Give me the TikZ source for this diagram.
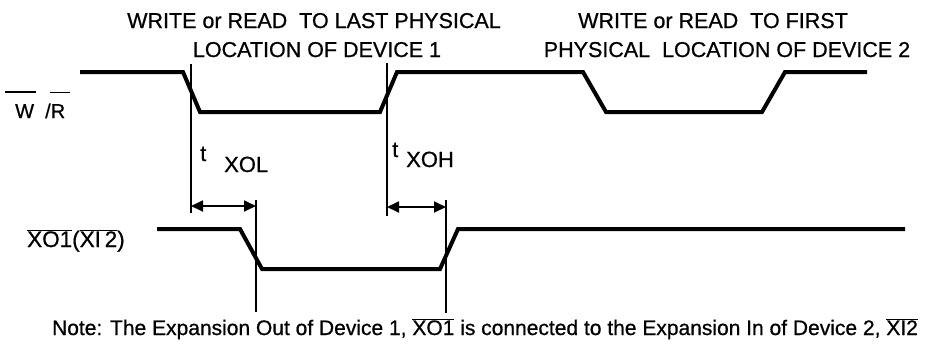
\documentclass[tikz,border=0pt]{standalone}
\usepackage{fontspec}
\setmainfont[FakeBold=0.7]{Liberation Sans}
\usetikzlibrary{arrows.meta,calc}
\newcommand{\olx}[1]{$\overline{\hbox{#1}}$}
\begin{document}
\begin{tikzpicture}[x=1pt,y=-1pt,
  sig/.style={line width=4pt,line join=miter,line cap=butt},
  tickline/.style={line width=1.8pt},
  ovl/.style={line width=1.6pt},
  dim/.style={line width=1.8pt,{Triangle[length=12pt,width=11pt]}-{Triangle[length=12pt,width=11pt]}},
  lbl/.style={inner sep=0pt,font=\fontsize{21.5}{25}\selectfont},
  sml/.style={inner sep=0pt,font=\fontsize{20}{24}\selectfont}]
\useasboundingbox (0,0) rectangle (937,346);

% headers
\node[lbl,anchor=base] (h1a) at (314,28) {WRITE or READ\ \ TO LAST PHYSICAL};
\node[lbl,anchor=base] (h1b) at (317,57) {LOCATION OF DEVICE 1};
\node[lbl,anchor=base] (h2a) at (713,28) {WRITE or READ\ \ TO FIRST};
\node[lbl,anchor=base] (h2b) at (727,57) {PHYSICAL\ \ LOCATION OF DEVICE 2};

% W/R signal
\coordinate (a0) at (80,72);
\coordinate (a1) at (183,72);
\coordinate (a2) at (200,112);
\coordinate (a3) at (380,112);
\coordinate (a4) at (397,72);
\coordinate (a5) at (583,72);
\coordinate (a6) at (606,112);
\coordinate (a7) at (762,112);
\coordinate (a8) at (785,72);
\coordinate (a9) at (867,72);
\draw[sig] (a0) -- (a1) -- (a2) -- (a3) -- (a4) -- (a5) -- (a6) -- (a7) -- (a8) -- (a9);

% XO1 signal
\coordinate (b0) at (157,229);
\coordinate (b1) at (240,229);
\coordinate (b2) at (262,269);
\coordinate (b3) at (440,269);
\coordinate (b4) at (458,229);
\coordinate (b5) at (905,229);
\draw[sig] (b0) -- (b1) -- (b2) -- (b3) -- (b4) -- (b5);

% timing markers
\coordinate (v1t) at (191,64);
\coordinate (v1b) at (191,213);
\coordinate (v2t) at (387,63);
\coordinate (v2b) at (387,216);
\coordinate (v3t) at (256,200);
\coordinate (v3b) at (256,312);
\coordinate (v4t) at (446,200);
\coordinate (v4b) at (446,313);
\draw[tickline] (v1t) -- (v1b);
\draw[tickline] (v2t) -- (v2b);
\draw[tickline] (v3t) -- (v3b);
\draw[tickline] (v4t) -- (v4b);
\coordinate (d1a) at (191,206);
\coordinate (d1b) at (256,206);
\coordinate (d2a) at (387,207);
\coordinate (d2b) at (446,207);
\draw[dim] (d1a) -- (d1b);
\draw[dim] (d2a) -- (d2b);

% timing labels
\node[lbl,anchor=base west,font=\fontsize{22}{26}\selectfont] (t1) at (200,161) {t};
\node[lbl,anchor=base west,font=\fontsize{22}{26}\selectfont] (x1) at (224,172) {XOL};
\node[lbl,anchor=base west,font=\fontsize{22}{26}\selectfont] (t2) at (392,157) {t};
\node[lbl,anchor=base west,font=\fontsize{22}{26}\selectfont] (x2) at (406,167) {XOH};

% signal names
\node[sml,anchor=base west] (w) at (15,118) {W};
\node[sml,anchor=base west] (r) at (45,118) {/R};
\draw[ovl] ($(w.north west)+(-10,-12)$) -- ($(w.north east)+(2,-12)$);
\draw[ovl] ($(r.north west)+(5,-11)$) -- ($(r.north east)+(5,-11)$);
\node[lbl,anchor=base west,font=\fontsize{22.5}{26}\selectfont] (xo) at (27,247) {\olx{XO1}(\olx{XI\,2})};

% note
\node[inner sep=0pt,anchor=base,font=\fontsize{21}{25}\selectfont] (note) at (485,335)
  {Note: The Expansion Out of Device 1, \olx{XO1} is connected to the Expansion In of Device 2, \olx{XI2}};
\end{tikzpicture}
\end{document}
